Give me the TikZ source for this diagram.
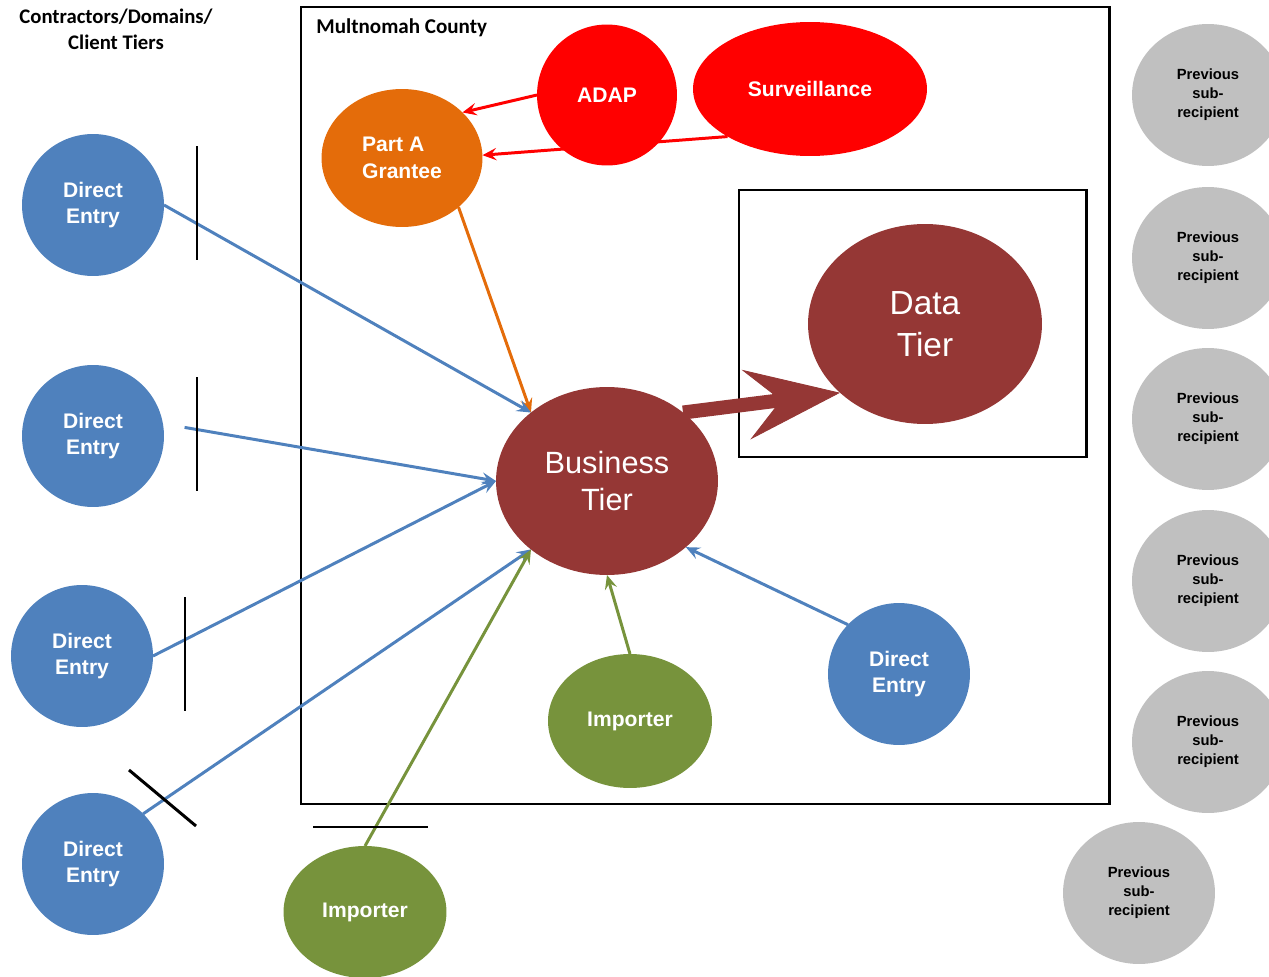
\documentclass[tikz,border=0pt]{standalone}
\usepackage{fontspec}
\setmainfont{Liberation Sans}
\newfontfamily\calibri{Carlito}
\usetikzlibrary{shapes.geometric,arrows.meta}
\definecolor{deblue}{HTML}{4F81BD}
\definecolor{adapred}{HTML}{FF0000}
\definecolor{grantorange}{HTML}{E46C0A}
\definecolor{tierred}{HTML}{953735}
\definecolor{impgreen}{HTML}{77933C}
\definecolor{prevgray}{HTML}{C0C0C0}
\begin{document}
\begin{tikzpicture}[x=0.02cm, y=-0.02cm,
    blob/.style={ellipse, fill, inner sep=0pt, outer sep=0pt, text=white, align=center,
        font=\bfseries\fontsize{12}{15}\selectfont},
    entry/.style={blob, fill=deblue, minimum width=2.84cm, minimum height=2.84cm},
    prev/.style={blob, fill=prevgray, text=black, minimum width=3.04cm, minimum height=2.84cm,
        font=\bfseries\fontsize{8.4}{10.8}\selectfont},
    tier/.style={blob, fill=tierred, font=\fontsize{17.5}{21.5}\selectfont},
    link/.style={-{Stealth[length=8pt, width=7pt, inset=3pt]}, line width=1.7pt},
    bar/.style={line width=1.7pt}]
        \clip (0,0) rectangle (1269,977);

        \draw [line width=1.7pt] (301,7) rectangle (1109,804);
        \draw [line width=1.7pt] (739,190) rectangle (1086,457);

        \node [font=\calibri\bfseries\fontsize{11.8}{14.7}\selectfont, align=center] (ctitle) at (116,29) {Contractors/Domains/\\Client Tiers};
        \node [font=\calibri\bfseries\fontsize{12}{14}\selectfont, anchor=base west, inner sep=0pt] (county) at (316,33) {Multnomah County};

        \node [entry] (de1) at (93,205) {Direct\\Entry};
        \node [entry] (de2) at (93,436) {Direct\\Entry};
        \node [entry] (de3) at (82,656) {Direct\\Entry};
        \node [entry] (de4) at (93,864) {Direct\\Entry};
        \node [entry] (de5) at (899,674) {Direct\\Entry};

        \node [blob, fill=adapred, minimum width=2.8cm, minimum height=2.82cm] (adap) at (607,95) {ADAP};
        \node [blob, fill=adapred, minimum width=4.68cm, minimum height=2.68cm] (surv) at (810,89) {Surveillance};
        \node [blob, fill=grantorange, minimum width=3.22cm, minimum height=2.76cm, align=left] (pa) at (402,158) {Part A\\Grantee};
        \node [tier, minimum width=4.44cm, minimum height=3.76cm] (bt) at (607,481) {Business\\Tier};
        \node [tier, minimum width=4.68cm, minimum height=4cm, font=\fontsize{19}{23.8}\selectfont] (dt) at (925,324) {Data\\Tier};
        \node [blob, fill=impgreen, minimum width=3.28cm, minimum height=2.68cm] (imp1) at (630,721) {Importer};
        \node [blob, fill=impgreen, minimum width=3.26cm, minimum height=2.64cm] (imp2) at (365,912) {Importer};

        \node [prev] (prev1) at (1208,95) {Previous\\sub-\\recipient};
        \node [prev] (prev2) at (1208,258) {Previous\\sub-\\recipient};
        \node [prev] (prev3) at (1208,419) {Previous\\sub-\\recipient};
        \node [prev] (prev4) at (1208,581) {Previous\\sub-\\recipient};
        \node [prev] (prev5) at (1208,742) {Previous\\sub-\\recipient};
        \node [prev] (prev6) at (1139,893) {Previous\\sub-\\recipient};

        \draw [link, adapred] (adap.west) -- (pa.37);
        \draw [link, adapred] (surv.210) -- (pa.2);
        \draw [link, grantorange] (pa.-41) -- (bt.138);

        \draw [link, deblue] (de1.east) -- (bt.138);
        \draw [link, deblue, shorten <=0.44cm] (de2.10) -- (bt.west);
        \draw [link, deblue] (de3.east) -- (bt.west);
        \draw [link, deblue] (de4.45) -- (bt.222);
        \draw [link, deblue] (de5.136) -- (bt.-40);

        \draw [link, impgreen] (imp2.north) -- (bt.222);
        \draw [link, impgreen] (imp1.north) -- (bt.south);

        \draw [tierred, line width=8pt, -{Stealth[length=54pt, width=40pt, inset=20pt, line width=0.5pt]}] (bt.42) -- (dt.219);

        % cut marks
        \draw [bar] (197,146) -- (197,260);
        \draw [bar] (197,377) -- (197,491);
        \draw [bar] (185,597) -- (185,711);
        \draw [bar] (129,770) -- (196,826);
        \draw [bar] (313,827) -- (428,827);

    \end{tikzpicture}
\end{document}
